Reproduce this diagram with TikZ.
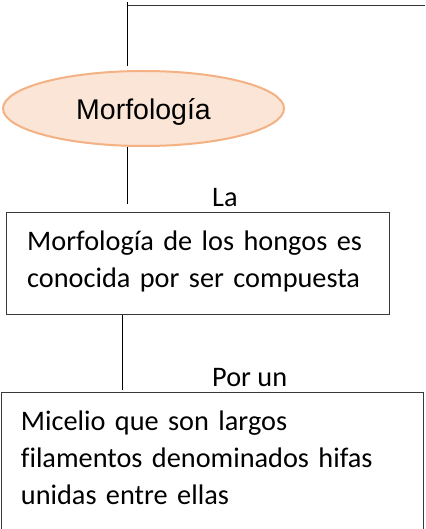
\documentclass[tikz,border=0pt]{standalone}
\usepackage{fontspec}
\setmainfont[Ligatures=NoCommon]{Carlito}
\newfontfamily\arialfont{Liberation Sans}
\usetikzlibrary{shapes.geometric,calc}
\definecolor{peachfill}{HTML}{FBE5D6}
\definecolor{peachline}{HTML}{F4B183}
\definecolor{boxline}{HTML}{3A3A3A}
\tikzset{
  conn/.style={draw=black,line width=1pt},
  boxrect/.style={draw=boxline,line width=1.2pt,rectangle,inner sep=0pt,anchor=north west},
  bodytext/.style={anchor=base west,inner sep=0pt,align=left,text width=400pt,
    font=\fontsize{28.3}{37.3}\selectfont},
  labeltext/.style={anchor=base west,inner sep=0pt,font=\fontsize{28.3}{35}\selectfont},
}
\begin{document}
\begin{tikzpicture}[x=1pt,y=-1pt]
\clip (0,0) rectangle (425,529);
\useasboundingbox (0,0) rectangle (425,529);
% ellipse
\node[ellipse,fill=peachfill,draw=peachline,line width=2pt,minimum width=281pt,minimum height=75pt,inner sep=0pt] (e) at (143.5,108.5) {};
\node[anchor=base,inner sep=0pt,font=\arialfont\fontsize{28.5}{34}\selectfont] (et) at (143.5,120) {Morfología};
% top connector
\coordinate (x0) at (127.5,0);
\coordinate (ctop) at (127.5,2.5);
\coordinate (cright) at (425,5.3);
\draw[conn] ($(e.north -| x0)+(0,-4)$) -- (ctop);
\draw[conn,draw=black!80] (ctop |- cright) -- (cright);
% box 1
\node[boxrect,minimum width=383pt,minimum height=102pt] (b1) at (6,212) {};
\node[bodytext] (t1) at (27,250) {Morfología de los hongos es\\conocida por ser compuesta};
\node[labeltext] (la) at (212,206.7) {La};
\coordinate (x1) at (127.3,0);
\draw[conn] (e.south -| x1) -- ($(b1.north -| x1)+(0,-8)$);
% box 2
\node[boxrect,minimum width=421.5pt,minimum height=160pt] (b2) at (1,392) {};
\node[bodytext] (t2) at (20.7,430) {Micelio que son largos\\filamentos denominados hifas\\unidas entre ellas};
\node[labeltext] (pu) at (212,386.7) {Por un};
\coordinate (x2) at (122.7,0);
\draw[conn] (b1.south -| x2) -- ($(b2.north -| x2)+(0,-2)$);
\end{tikzpicture}
\end{document}
